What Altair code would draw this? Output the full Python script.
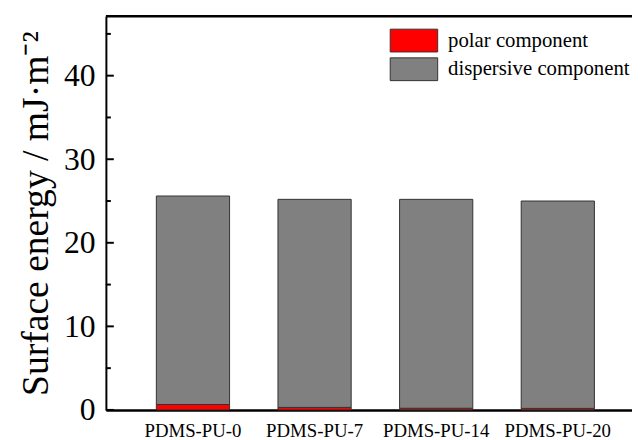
import altair as alt
import pandas as pd

samples = ["PDMS-PU-0", "PDMS-PU-7", "PDMS-PU-14", "PDMS-PU-20"]
polar = [0.65, 0.30, 0.20, 0.18]
dispersive = [24.95, 24.90, 25.00, 24.82]
components = ["polar component", "dispersive component"]
colors = ["#ff0000", "#808080"]
major_ticks = [0, 10, 20, 30, 40]
minor_ticks = [5, 15, 25, 35, 45]
y_top = [47.1]

rows = []
for i, s in enumerate(samples):
    rows.append({"sample": s, "component": components[0], "value": polar[i], "order": 0})
    rows.append({"sample": s, "component": components[1], "value": dispersive[i], "order": 1})
df = pd.DataFrame(rows)

W, H = 532, 398
FONT = "Liberation Serif"
yscale = alt.Scale(domain=[0, y_top[0]], nice=False, zero=True)
yaxis = alt.Axis(title="Surface energy / mJ·m⁻²", titleFont=FONT, titleFontSize=38,
                 titleFontWeight="normal", titleColor="black", titlePadding=8,
                 values=major_ticks, ticks=False, labelFont=FONT, labelFontSize=32,
                 labelColor="black", labelPadding=11, domainColor="black",
                 domainWidth=2, grid=False)

bars = alt.Chart(df).mark_bar(stroke="#333333", strokeWidth=1).encode(
    x=alt.X("sample:N", sort=samples, title=None,
            scale=alt.Scale(paddingInner=0.398, paddingOuter=0.362, align=0.573),
            axis=alt.Axis(labelAngle=0, labelFont=FONT, labelFontSize=19, labelColor="black",
                          labelPadding=12, ticks=False, domainColor="black", domainWidth=2.5)),
    y=alt.Y("value:Q", stack="zero", scale=yscale, axis=yaxis),
    color=alt.Color("component:N", scale=alt.Scale(domain=components, range=colors),
                    legend=alt.Legend(title=None, orient="none", legendX=299, legendY=12,
                                      symbolType="M-2,-0.96H2V0.96H-2Z", symbolSize=576,
                                      symbolStrokeColor="#333333", symbolStrokeWidth=1,
                                      symbolOpacity=1, labelFont=FONT, labelFontSize=21,
                                      labelColor="black", labelOffset=22, rowPadding=0,
                                      labelLimit=400, padding=0)),
    order=alt.Order("order:Q", sort="ascending"),
)

major = alt.Chart(pd.DataFrame({"v": major_ticks})).mark_rule(color="black", strokeWidth=2).encode(
    y=alt.Y("v:Q", scale=yscale, axis=yaxis), x=alt.value(0), x2=alt.value(8))
minor = alt.Chart(pd.DataFrame({"v": minor_ticks})).mark_rule(color="black", strokeWidth=2).encode(
    y=alt.Y("v:Q", scale=yscale, axis=yaxis), x=alt.value(0), x2=alt.value(5))
top = alt.Chart(pd.DataFrame({"v": y_top})).mark_rule(color="black", strokeWidth=2.5).encode(
    y=alt.Y("v:Q", scale=yscale, axis=yaxis), x=alt.value(0), x2=alt.value(W))

chart = alt.layer(bars, major, minor, top).properties(
    width=W, height=H,
    padding={"left": 99, "top": 6, "right": 0, "bottom": 30},
    autosize=alt.AutoSizeParams(type="none"),
).configure_view(stroke=None)

chart.save("out.html", embed_options={"renderer": "svg", "actions": False})
